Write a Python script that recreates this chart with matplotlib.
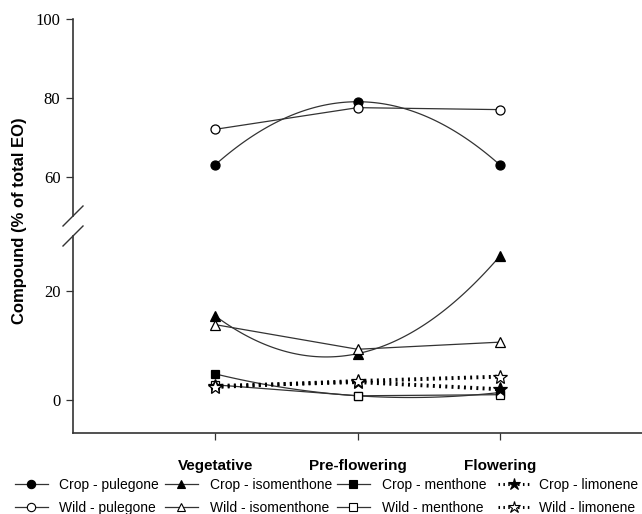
import numpy as np
import matplotlib.pyplot as plt
from matplotlib.lines import Line2D

# stages and values (% of total EO)
stages = ['Vegetative', 'Pre-flowering', 'Flowering']
crop_pulegone = [63.0, 79.0, 63.0]
wild_pulegone = [72.0, 77.5, 77.0]
crop_isomenthone = [15.4, 8.5, 26.3]
wild_isomenthone = [13.8, 9.3, 10.6]
crop_menthone = [4.8, 0.8, 1.4]
wild_menthone = [2.8, 0.8, 1.0]
crop_limonene = [2.6, 3.3, 2.0]
wild_limonene = [2.4, 3.5, 4.3]

x = np.arange(1, len(stages) + 1)
xs = np.linspace(1, 3, 100)

fig = plt.figure(figsize=(6.42, 5.14), dpi=100)
left, width = 73 / 642, 1 - 73 / 642
ax_top = fig.add_axes([left, 1 - 216 / 514, width, (216 - 19) / 514])
ax_bot = fig.add_axes([left, 1 - 433 / 514, width, (433 - 236) / 514])

line_col = '#333333'
dots = (0, (0.5, 1.1))


def draw(ax, vals, marker, face, ms, smooth=False, dotted=False):
    if dotted:
        ax.plot(x, vals, color='black', lw=2.8, ls=dots,
                dash_capstyle='butt', zorder=2)
    elif smooth:
        c = np.polyfit(x, vals, 2)
        ax.plot(xs, np.polyval(c, xs), color=line_col, lw=0.9, zorder=2)
    else:
        ax.plot(x, vals, color=line_col, lw=0.9, zorder=2)
    ax.plot(x, vals, ls='none', marker=marker, ms=ms, mfc=face,
            mec='black', mew=0.9, zorder=3)


draw(ax_top, crop_pulegone, 'o', 'black', 6.5, smooth=True)
draw(ax_top, wild_pulegone, 'o', 'white', 6.5)
draw(ax_bot, crop_isomenthone, '^', 'black', 7, smooth=True)
draw(ax_bot, wild_isomenthone, '^', 'white', 7)
draw(ax_bot, crop_menthone, 's', 'black', 6, smooth=True)
draw(ax_bot, wild_menthone, 's', 'white', 6)
draw(ax_bot, crop_limonene, '*', 'black', 10, dotted=True)
draw(ax_bot, wild_limonene, '*', 'white', 10, dotted=True)

for ax in (ax_top, ax_bot):
    ax.set_xlim(0, 4)
    ax.spines['top'].set_visible(False)
    ax.spines['right'].set_visible(False)
    ax.spines['left'].set_color(line_col)
    ax.spines['left'].set_linewidth(1.2)
    ax.tick_params(axis='y', direction='out', length=5, width=0.9,
                   colors=line_col, labelcolor='black', pad=4)

ax_top.set_ylim(50, 100)
ax_top.set_yticks([60, 80, 100])
ax_top.set_yticklabels(['60', '80', '100'], fontfamily='Liberation Serif', fontsize=12)
ax_top.spines['bottom'].set_visible(False)
ax_top.set_xticks([])

ax_bot.set_ylim(-6, 30)
ax_bot.set_yticks([0, 20])
ax_bot.set_yticklabels(['0', '20'], fontfamily='Liberation Serif', fontsize=12)
ax_bot.spines['bottom'].set_color(line_col)
ax_bot.spines['bottom'].set_linewidth(1.2)
ax_bot.set_xticks(x)
ax_bot.set_xticklabels(stages, fontfamily='Liberation Sans', fontweight='bold', fontsize=11)
ax_bot.tick_params(axis='x', direction='out', length=5, width=0.9,
                   colors=line_col, labelcolor='black', pad=14)

# axis break marks
dx, dy = 10 / 642, 10 / 514
for yc in (1 - 216 / 514, 1 - 236 / 514):
    fig.add_artist(Line2D([left - dx, left + dx], [yc - dy, yc + dy],
                          transform=fig.transFigure, color=line_col, lw=1))

fig.text(20 / 642, 1 - 221 / 514, 'Compound (% of total EO)', rotation=90,
         ha='center', va='center', fontfamily='Liberation Sans',
         fontweight='bold', fontsize=12)

# legend, one column at a time
compounds = ['pulegone', 'isomenthone', 'menthone', 'limonene']
markers = ['o', '^', 's', '*']
col_x = [15, 165, 337, 498]
text_pad = [0.82, 0.89, 0.89, 0.6]
for comp, m, cx, tp in zip(compounds, markers, col_x, text_pad):
    handles = []
    for face in ('black', 'white'):
        if m == '*':
            handles.append(Line2D([], [], color='black', lw=2.2, ls=dots, marker=m,
                                  ms=9, mfc=face, mec='black', mew=0.8))
        else:
            handles.append(Line2D([], [], color=line_col, lw=0.9, marker=m,
                                  ms=6, mfc=face, mec='black', mew=0.8))
    fig.legend(handles, ['Crop - ' + comp, 'Wild - ' + comp], loc='upper left',
               bbox_to_anchor=(cx / 642, 1 - 478 / 514), frameon=False,
               prop={'family': 'Liberation Sans', 'size': 10}, handlelength=2.35,
               handletextpad=tp, labelspacing=0.62, borderpad=0, borderaxespad=0)

fig.savefig('out.png', dpi=100)
